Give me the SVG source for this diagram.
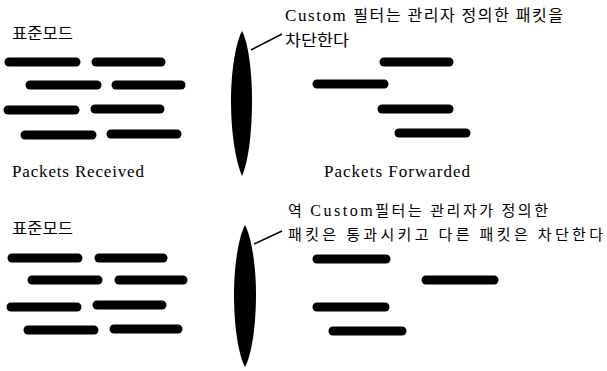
<svg xmlns="http://www.w3.org/2000/svg" width="607" height="371" viewBox="0 0 607 371">
<style>
.bar{stroke:#000;stroke-width:9;stroke-linecap:round;fill:none}
.lead{stroke:#000;stroke-width:1.5;fill:none}
.lens{fill:#000}
.t{font-family:"Liberation Serif","Noto Sans CJK KR",serif;font-size:17px;fill:#000}
.ko{font-family:"Noto Sans CJK KR","Liberation Serif",serif;font-size:16px;fill:#000}
.ks{font-family:"Noto Sans CJK KR","Liberation Serif",serif;font-size:15px;fill:#000}
.ts{font-family:"Liberation Serif","Noto Sans CJK KR",serif;font-size:16px}
</style>
<rect width="607" height="371" fill="#fff"/>
<g id="top-received">
<text class="ko" x="12" y="39" textLength="61" lengthAdjust="spacingAndGlyphs">표준모드</text>
<line class="bar" x1="9" y1="62" x2="76" y2="62"/>
<line class="bar" x1="96" y1="62" x2="161" y2="62"/>
<line class="bar" x1="30" y1="85" x2="97" y2="85"/>
<line class="bar" x1="116" y1="85" x2="181" y2="85"/>
<line class="bar" x1="8" y1="110" x2="75" y2="110"/>
<line class="bar" x1="95" y1="109" x2="160" y2="109"/>
<line class="bar" x1="25" y1="135" x2="92" y2="135"/>
<line class="bar" x1="111" y1="134" x2="177" y2="134"/>
<text class="t" x="12" y="177" textLength="132" lengthAdjust="spacing">Packets Received</text>
</g>
<g id="top-filter">
<path class="lens" d="M242,31 C248,42 252,70 252,100 C252,135 248,162 242,176 C236,162 231,135 231,100 C231,70 236,42 242,31 Z"/>
</g>
<g id="top-label">
<text class="t" x="285" y="21" textLength="278" lengthAdjust="spacing">Custom <tspan class="ko">필터는 관리자 정의한 패킷을</tspan></text>
<text class="ko" x="285" y="46" textLength="64" lengthAdjust="spacingAndGlyphs">차단한다</text>
</g>
<g id="top-forwarded">
<line class="bar" x1="384" y1="62" x2="449" y2="62"/>
<line class="bar" x1="317" y1="84" x2="384" y2="84"/>
<line class="bar" x1="382" y1="109" x2="449" y2="109"/>
<line class="bar" x1="399" y1="133" x2="466" y2="133"/>
<text class="t" x="324" y="177" textLength="146" lengthAdjust="spacing">Packets Forwarded</text>
</g>
<g id="bottom-received">
<text class="ko" x="12" y="234" textLength="61" lengthAdjust="spacingAndGlyphs">표준모드</text>
<line class="bar" x1="12" y1="258" x2="78" y2="258"/>
<line class="bar" x1="99" y1="258" x2="163" y2="258"/>
<line class="bar" x1="32" y1="280" x2="98" y2="280"/>
<line class="bar" x1="119" y1="280" x2="183" y2="280"/>
<line class="bar" x1="11" y1="307" x2="77" y2="307"/>
<line class="bar" x1="97" y1="305" x2="162" y2="305"/>
<line class="bar" x1="28" y1="330" x2="94" y2="330"/>
<line class="bar" x1="114" y1="329" x2="178" y2="329"/>
</g>
<g id="bottom-filter">
<path class="lens" d="M245,225 C251,236 256,264 256,294 C256,329 251,356 245,367 C239,356 234,329 234,294 C234,264 239,236 245,225 Z"/>
</g>
<g id="bottom-label">
<text class="ks" x="288" y="216" textLength="260" lengthAdjust="spacing">역 <tspan class="ts">Custom</tspan>필터는 관리자가 정의한</text>
<text class="ks" x="288" y="240" textLength="315" lengthAdjust="spacing">패킷은  통과시키고 다른 패킷은 차단한다</text>
</g>
<g id="bottom-forwarded">
<line class="bar" x1="317" y1="259" x2="386" y2="259"/>
<line class="bar" x1="426" y1="280" x2="494" y2="280"/>
<line class="bar" x1="317" y1="307" x2="385" y2="307"/>
<line class="bar" x1="333" y1="331" x2="402" y2="331"/>
</g>
<g id="connectors">
<line class="lead" x1="251" y1="50" x2="282" y2="34"/>
<line class="lead" x1="254" y1="244" x2="282" y2="231"/>
</g>
</svg>
